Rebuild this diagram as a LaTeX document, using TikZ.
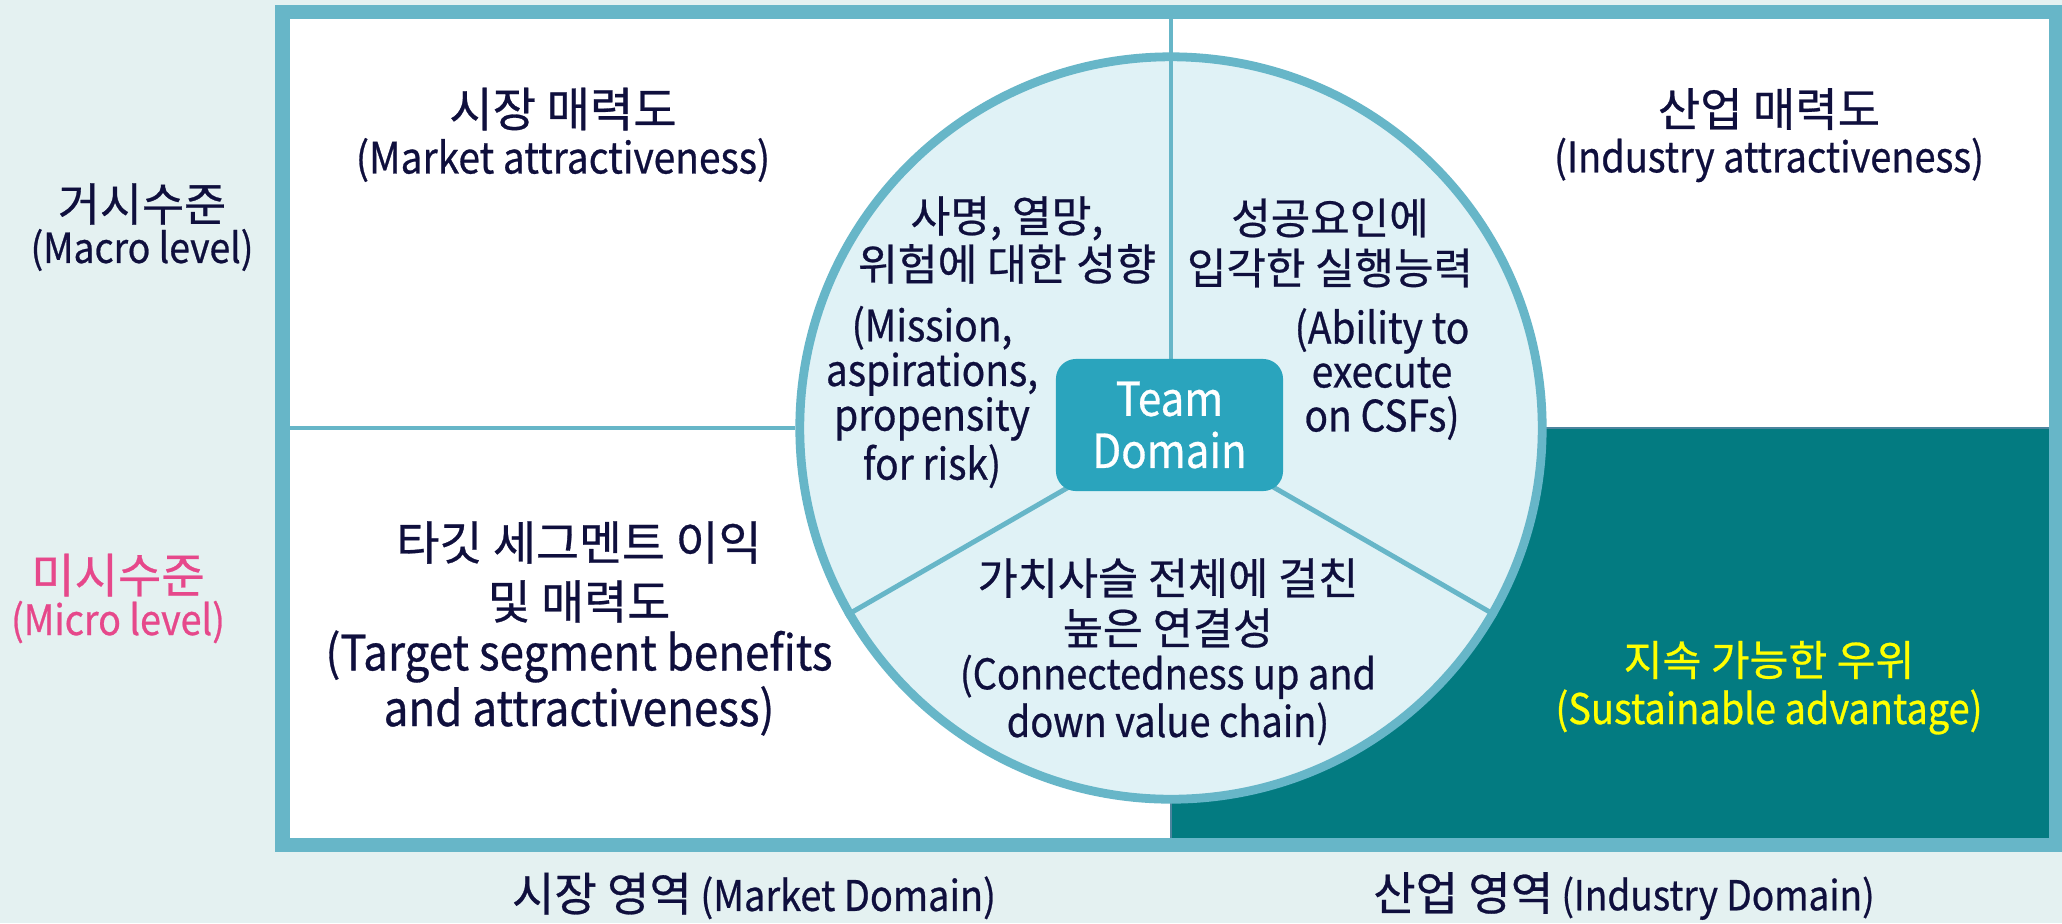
\documentclass[tikz,border=0pt]{standalone}
\usepackage{fontspec}
\setmainfont{Noto Sans CJK KR}[FakeStretch=0.9, FakeBold=0.6]
\newfontfamily\korfont{Noto Sans CJK KR}[FakeBold=0.6]

\definecolor{bgcol}{HTML}{E4F1F1}
\definecolor{framecol}{HTML}{67B6C8}
\definecolor{circfill}{HTML}{E0F2F6}
\definecolor{teamcol}{HTML}{2AA4BD}
\definecolor{tealcol}{HTML}{037B81}
\definecolor{inkcol}{HTML}{0F0F3D}
\definecolor{pinkcol}{HTML}{E6488B}
\definecolor{yellowcol}{HTML}{FFFF00}

\newcommand{\txtsize}[2]{\fontsize{#1}{#2}\selectfont}

\begin{document}
\begin{tikzpicture}[x=0.01cm,y=-0.01cm,
  lbl/.style={text=inkcol, align=center, inner sep=0pt},
  divider/.style={draw=framecol, line width=1.4pt}]

\useasboundingbox[fill=bgcol] (0,0) rectangle (2062,923);

% frame and quadrants
\fill[framecol] (275,5) rectangle (2063,852);
\fill[white] (290,19) rectangle (2049,838);
\fill[tealcol] (1171,428) rectangle (2049,838);
\draw[framecol!70!inkcol, line width=0.4pt] (1171,838) -- (1171,428) -- (2049,428);

\coordinate (leftmid) at (290,428);
\coordinate (topmid) at (1171,19);

% team circle
\node[circle, draw=framecol, line width=2.5pt, fill=circfill, minimum size=7.42cm, inner sep=0pt] (pie) at (1171,428) {};
\draw[divider] (leftmid) -- (pie.west);
\draw[divider] (topmid) -- (pie.center);
\draw[divider] (pie.center) -- (pie.210);
\draw[divider] (pie.center) -- (pie.330);

\node[fill=teamcol, rounded corners=0.2cm, minimum width=2.27cm, minimum height=1.32cm,
  text=white, align=center, inner sep=0pt, font=\txtsize{13.3}{14.8}] (team) at (1169.5,425) {Team\\Domain};

% quadrant labels
\node[lbl, font=\korfont\txtsize{13.4}{15}] (mkttitle) at (563,109) {시장 매력도};
\node[lbl, font=\txtsize{12.3}{15}] (mktsub) at (563,160) {(Market attractiveness)};
\node[lbl, font=\korfont\txtsize{13.1}{15}] (indtitle) at (1769,109) {산업 매력도};
\node[lbl, font=\txtsize{12}{15}] (indsub) at (1769,160) {(Industry attractiveness)};
\node[lbl, font=\korfont\txtsize{13.3}{16.8}] (segtitle) at (579,572) {타깃 세그멘트 이익\\및 매력도};
\node[lbl, font=\txtsize{13.9}{14.2}] (segsub) at (579,683) {(Target segment benefits\\and attractiveness)};
\node[lbl, text=yellowcol, font=\korfont\txtsize{12}{15}] (advtitle) at (1769,660) {지속 가능한 우위};
\node[lbl, text=yellowcol, font=\txtsize{12}{15}] (advsub) at (1769,712) {(Sustainable advantage)};

% circle sectors
\node[lbl, font=\korfont\txtsize{12.3}{13.7}] (misstitle) at (1007,240) {사명, 열망,\\위험에 대한 성향};
\node[lbl, font=\txtsize{12.3}{12.7}] (misssub) at (932,397) {(Mission,\\aspirations,\\propensity\\for risk)};
\node[lbl, font=\korfont\txtsize{12.2}{14.2}] (abiltitle) at (1330,243) {성공요인에\\입각한 실행능력};
\node[lbl, font=\txtsize{12.3}{12.5}] (abilsub) at (1382,374) {(Ability to\\execute\\on CSFs)};
\node[lbl, font=\korfont\txtsize{12.4}{14.2}] (valtitle) at (1168,603) {가치사슬 전체에 걸친\\높은 연결성};
\node[lbl, font=\txtsize{12}{12.5}] (valsub) at (1168,700) {(Connectedness up and\\down value chain)};

% axis labels
\node[lbl, font=\korfont\txtsize{13}{15}] (macro) at (142,204) {거시수준};
\node[lbl, font=\txtsize{11.8}{15}] (macrosub) at (142,250) {(Macro level)};
\node[lbl, text=pinkcol, font=\korfont\txtsize{13.4}{15}] (micro) at (118,575) {미시수준};
\node[lbl, text=pinkcol, font=\txtsize{11.9}{15}] (microsub) at (118,622) {(Micro level)};
\node[lbl, font=\txtsize{12}{15}] (mktdom) at (754,896) {{\korfont\txtsize{13.1}{15}시장 영역} (Market Domain)};
\node[lbl, font=\txtsize{11.7}{15}] (inddom) at (1624,896) {{\korfont\txtsize{13.1}{15}산업 영역} (Industry Domain)};
\end{tikzpicture}
\end{document}
